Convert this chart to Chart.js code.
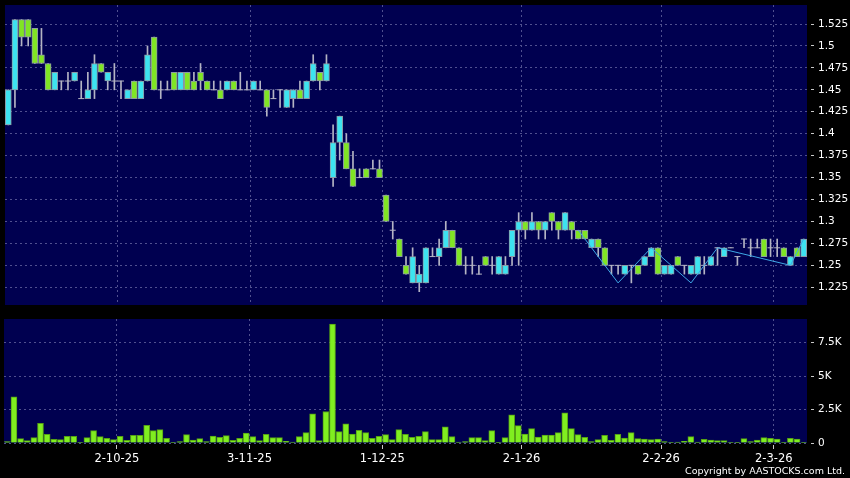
<!DOCTYPE html>
<html>
<head>
<meta charset="utf-8">
<script src="https://cdn.jsdelivr.net/npm/chart.js@4.4.1/dist/chart.umd.min.js"></script>
<style>
  html, body { margin: 0; padding: 0; background: #000; width: 850px; height: 478px; overflow: hidden; }
  #pc { position: absolute; left: 0; top: 0; }
  #vc { position: absolute; left: 0; top: 310px; }
  #copy { position: absolute; right: 5px; top: 465px; color: #fff; font: 9.5px 'DejaVu Sans', sans-serif; line-height: 12px; white-space: nowrap; }
</style>
</head>
<body>
<canvas id="pc" width="850" height="310"></canvas>
<canvas id="vc" width="850" height="168"></canvas>
<div id="copy">Copyright by AASTOCKS.com Ltd.</div>
<script>
// daily bars, 8-9-25 .. 6-3-26
const opens = [1.41,1.45,1.53,1.53,1.52,1.49,1.48,1.45,1.46,1.46,
  1.46,1.44,1.44,1.45,1.48,1.46,1.46,1.46,1.44,1.46,
  1.44,1.46,1.51,1.45,1.45,1.47,1.45,1.47,1.46,1.47,
  1.46,1.45,1.45,1.45,1.46,1.45,1.45,1.45,1.45,1.45,
  1.44,1.45,1.43,1.44,1.45,1.44,1.46,1.47,1.46,1.35,
  1.39,1.39,1.36,1.35,1.36,1.36,1.36,1.33,1.29,1.28,
  1.25,1.23,1.23,1.23,1.26,1.26,1.27,1.29,1.27,1.25,
  1.25,1.24,1.26,1.25,1.24,1.24,1.26,1.29,1.30,1.29,
  1.30,1.29,1.31,1.30,1.29,1.30,1.29,1.29,1.27,1.28,
  1.27,1.25,1.25,1.24,1.25,1.25,1.25,1.26,1.27,1.24,
  1.24,1.26,1.25,1.24,1.24,1.25,1.25,1.27,1.26,1.27,
  1.26,1.28,1.27,1.27,1.28,1.27,1.27,1.27,1.25,1.27,
  1.26];
const highs = [1.45,1.53,1.53,1.53,1.52,1.52,1.48,1.47,1.46,1.47,
  1.47,1.46,1.47,1.49,1.48,1.47,1.48,1.46,1.45,1.46,
  1.46,1.50,1.51,1.46,1.46,1.47,1.47,1.47,1.47,1.48,
  1.46,1.46,1.46,1.46,1.46,1.47,1.46,1.46,1.46,1.45,
  1.45,1.45,1.45,1.45,1.46,1.46,1.49,1.47,1.49,1.41,
  1.42,1.40,1.38,1.36,1.36,1.37,1.37,1.33,1.30,1.28,
  1.26,1.27,1.25,1.27,1.27,1.28,1.30,1.29,1.27,1.26,
  1.26,1.25,1.26,1.26,1.26,1.26,1.29,1.31,1.30,1.31,
  1.30,1.30,1.31,1.30,1.31,1.30,1.29,1.29,1.28,1.28,
  1.27,1.25,1.25,1.25,1.25,1.25,1.26,1.27,1.27,1.25,
  1.25,1.26,1.25,1.25,1.26,1.26,1.26,1.27,1.27,1.27,
  1.26,1.28,1.28,1.28,1.28,1.28,1.28,1.27,1.26,1.27,
  1.28];
const lows = [1.41,1.43,1.50,1.50,1.48,1.48,1.45,1.45,1.45,1.45,
  1.46,1.44,1.44,1.44,1.47,1.45,1.45,1.44,1.44,1.44,
  1.44,1.46,1.45,1.44,1.45,1.45,1.45,1.45,1.45,1.45,
  1.45,1.45,1.44,1.45,1.45,1.45,1.45,1.45,1.45,1.42,
  1.44,1.43,1.43,1.43,1.44,1.44,1.46,1.45,1.46,1.34,
  1.37,1.36,1.34,1.35,1.35,1.36,1.35,1.30,1.28,1.26,
  1.24,1.23,1.22,1.23,1.26,1.25,1.27,1.27,1.25,1.24,
  1.24,1.24,1.25,1.24,1.24,1.24,1.25,1.25,1.28,1.29,
  1.28,1.28,1.29,1.28,1.29,1.28,1.28,1.28,1.27,1.26,
  1.25,1.24,1.24,1.24,1.23,1.24,1.25,1.26,1.24,1.24,
  1.24,1.25,1.24,1.24,1.24,1.24,1.25,1.25,1.26,1.27,
  1.25,1.27,1.26,1.27,1.26,1.26,1.26,1.26,1.25,1.26,
  1.26];
const closes = [1.45,1.53,1.51,1.51,1.48,1.48,1.45,1.47,1.46,1.46,
  1.47,1.44,1.45,1.48,1.47,1.47,1.46,1.46,1.45,1.44,
  1.46,1.49,1.45,1.45,1.45,1.45,1.47,1.45,1.45,1.46,
  1.45,1.45,1.44,1.46,1.45,1.45,1.45,1.46,1.45,1.43,
  1.44,1.45,1.45,1.45,1.44,1.46,1.48,1.46,1.48,1.39,
  1.42,1.36,1.34,1.35,1.35,1.36,1.35,1.30,1.29,1.26,
  1.24,1.26,1.24,1.27,1.26,1.27,1.29,1.27,1.25,1.25,
  1.25,1.24,1.25,1.25,1.26,1.25,1.29,1.30,1.29,1.30,
  1.29,1.30,1.30,1.29,1.31,1.29,1.28,1.28,1.28,1.27,
  1.25,1.25,1.25,1.25,1.25,1.24,1.26,1.27,1.24,1.25,
  1.25,1.25,1.25,1.25,1.26,1.25,1.26,1.27,1.27,1.27,
  1.26,1.28,1.27,1.27,1.26,1.27,1.27,1.26,1.26,1.26,
  1.28];
const volumes = [100,3450,325,175,400,1475,650,275,250,500,
  500,20,400,925,475,350,250,500,200,575,
  575,1325,925,1000,350,10,100,625,225,325,
  100,525,425,550,200,350,750,475,175,650,
  400,400,125,75,475,775,2175,175,2350,8875,
  850,1425,675,950,775,350,500,625,250,1000,
  650,425,500,850,250,250,1200,475,75,100,
  400,400,175,925,10,400,2100,1300,675,1075,
  450,600,600,775,2250,1075,625,425,100,250,
  575,200,650,375,775,325,300,250,300,100,
  50,75,125,475,75,275,225,175,175,25,
  50,325,100,225,400,350,300,50,350,300,
  10];
// zigzag pivots
const zzIdx = [86, 92, 97, 103, 107, 118, 120];
const zzVal = [1.29, 1.23, 1.27, 1.23, 1.27, 1.25, 1.28];
// first trading day of each month and its label
const monthStart = [17, 37, 57, 78, 99, 116];
const monthLabels = ['2-10-25', '3-11-25', '1-12-25', '2-1-26', '2-2-26', '2-3-26'];
const priceTicks = [1.225, 1.25, 1.275, 1.3, 1.325, 1.35, 1.375, 1.4, 1.425, 1.45, 1.475, 1.5, 1.525];
const volTicks = [0, 2500, 5000, 7500];
const volTickLabels = ['0', '2.5K', '5K', '7.5K'];

const n = opens.length;
const FONT = "'DejaVu Sans', sans-serif";
const GRID = '#50508f';
const UP = '#3de3f0', DOWN = '#80e524', EDGE = '#8c9aa4', WICK = '#b4b4c4';

const panelBg = {
  id: 'panelBg',
  beforeDraw(c) {
    const { ctx, chartArea: a } = c;
    ctx.save();
    ctx.fillStyle = '#000050';
    ctx.fillRect(a.left, a.top, a.right - a.left, a.bottom - a.top);
    ctx.restore();
  },
};

function xAxis(showLabels) {
  return {
    type: 'linear', min: -0.5, max: n - 0.5, bounds: 'data', offset: false,
    afterBuildTicks: s => { s.ticks = monthStart.map(i => ({ value: i - 0.5 })); },
    afterFit: s => { s.height = showLabels ? 35 : 0; s.paddingLeft = 0; s.paddingRight = 0; },
    grid: { offset: false, color: GRID, drawTicks: showLabels, tickLength: 6, tickColor: '#c8c8c8', tickBorderDash: [0, 2, 4, 20] },
    border: { display: false, dash: [2, 3] },
    ticks: {
      display: showLabels, color: '#fff', font: { family: FONT, size: 11.5 },
      padding: 3, maxRotation: 0, autoSkip: false,
      callback: (v, i) => monthLabels[i],
    },
  };
}

function yAxis(min, max, ticks, fmt) {
  return {
    position: 'right', min, max, bounds: 'data',
    afterBuildTicks: s => { s.ticks = ticks.map(v => ({ value: v })); },
    afterFit: s => { s.width = 43; s.paddingTop = 0; s.paddingBottom = 0; },
    grid: { color: GRID, tickLength: 7, tickColor: '#c8c8c8', tickBorderDash: [0, 4, 3, 40] },
    border: { display: false, dash: [2, 3] },
    ticks: { color: '#fff', font: { family: FONT, size: 10.5 }, padding: 4, crossAlign: 'near', callback: fmt },
  };
}

const idx = [...Array(n).keys()];
const bodyIdx = idx.filter(i => opens[i] !== closes[i]);
const dojiIdx = idx.filter(i => opens[i] === closes[i]);

new Chart(document.getElementById('pc'), {
  type: 'bar',
  data: {
    datasets: [
      {
        type: 'line', order: 0,
        data: zzIdx.map((x, k) => ({ x, y: zzVal[k] })),
        borderColor: '#3ea8e6', borderWidth: 1, pointRadius: 0, tension: 0,
      },
      {
        type: 'line', order: 1, showLine: false,
        data: dojiIdx.map(i => ({ x: i, y: opens[i] })),
        pointStyle: 'line', pointRadius: 3, pointBorderColor: WICK, pointBorderWidth: 1,
      },
      {
        order: 2, grouped: false, barThickness: 6,
        data: bodyIdx.map(i => ({ x: i, y: [opens[i], closes[i]] })),
        backgroundColor: bodyIdx.map(i => closes[i] > opens[i] ? UP : DOWN),
        borderColor: EDGE, borderWidth: 1, borderSkipped: false,
      },
      {
        order: 3, grouped: false, barThickness: 1,
        data: idx.map(i => ({ x: i, y: [lows[i], highs[i]] })),
        backgroundColor: WICK, borderWidth: 0,
      },
    ],
  },
  options: {
    responsive: false, animation: false,
    layout: { padding: { left: 4, right: 0, top: 5, bottom: 5 } },
    plugins: { legend: { display: false }, tooltip: { enabled: false } },
    scales: {
      x: xAxis(false),
      y: yAxis(1.20481, 1.54665, priceTicks, v => String(+v.toFixed(3))),
    },
  },
  plugins: [panelBg],
});

new Chart(document.getElementById('vc'), {
  type: 'bar',
  data: {
    datasets: [{
      barThickness: 6,
      data: idx.map(i => ({ x: i, y: volumes[i] })),
      backgroundColor: '#80ee20', borderColor: '#55a014', borderWidth: 1, borderSkipped: 'bottom',
    }],
  },
  options: {
    responsive: false, animation: false,
    layout: { padding: { left: 4, right: 0, top: 9, bottom: 0 } },
    plugins: { legend: { display: false }, tooltip: { enabled: false } },
    scales: {
      x: xAxis(true),
      y: yAxis(0, 9260, volTicks, (v, i) => volTickLabels[i]),
    },
  },
  plugins: [panelBg],
});
</script>
</body>
</html>
